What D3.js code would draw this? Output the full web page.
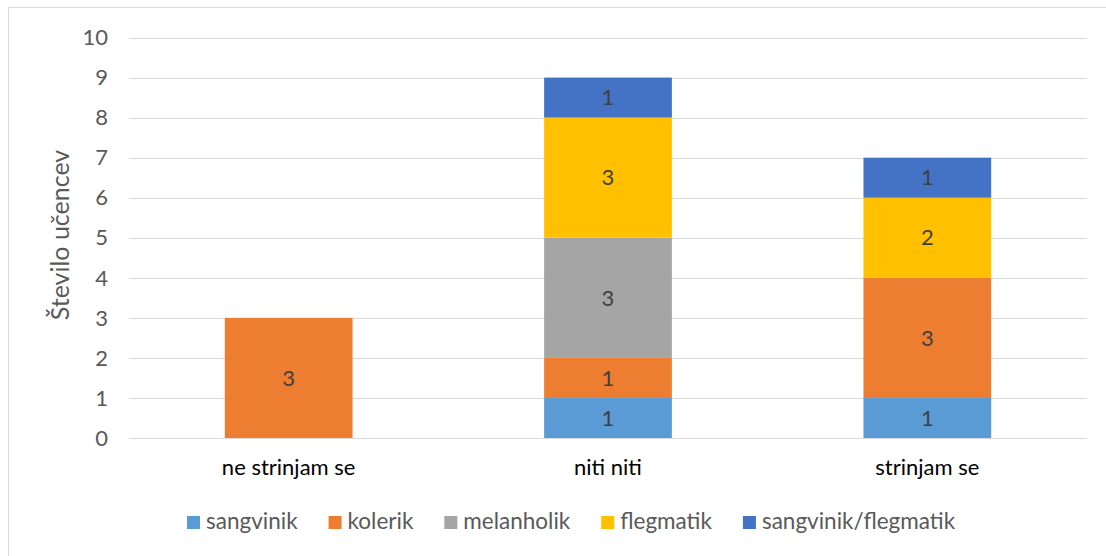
<!DOCTYPE html>
<html>
<head>
<meta charset="utf-8">
<script src="https://cdn.jsdelivr.net/npm/d3@7"></script>
<style>
  body { margin: 0; background: #fff; }
  svg { font-family: Lato, "Noto Sans", sans-serif; }
</style>
</head>
<body>
<svg id="chart" width="1106" height="556"></svg>
<script>
const categories = ["ne strinjam se", "niti niti", "strinjam se"];
const seriesNames = ["sangvinik", "kolerik", "melanholik", "flegmatik", "sangvinik/flegmatik"];
const sangvinik = [0, 1, 1];
const kolerik = [3, 1, 3];
const melanholik = [0, 3, 0];
const flegmatik = [0, 3, 2];
const sangvinikFlegmatik = [0, 1, 1];
const colors = ["#5B9BD5", "#ED7D31", "#A5A5A5", "#FFC000", "#4472C4"];
const yTicks = [0, 1, 2, 3, 4, 5, 6, 7, 8, 9, 10];

const seriesValues = [sangvinik, kolerik, melanholik, flegmatik, sangvinikFlegmatik];
const rows = categories.map((c, i) => {
  const r = { cat: c };
  seriesNames.forEach((s, j) => { r[s] = seriesValues[j][i]; });
  return r;
});

const svg = d3.select("#chart");

// outer chart border
svg.append("rect")
  .attr("x", 8.5).attr("y", 7.5)
  .attr("width", 1110).attr("height", 560)
  .attr("fill", "none").attr("stroke", "#d9d9d9");

const x = d3.scaleBand()
  .domain(categories)
  .range([129, 1087])
  .paddingInner(0.6)
  .paddingOuter(0.3);

const y = d3.scaleLinear().domain([0, 10]).range([438, 37.5]);

// gridlines
svg.append("g")
  .selectAll("line")
  .data(yTicks)
  .enter()
  .append("line")
  .attr("x1", 129)
  .attr("x2", 1087)
  .attr("y1", d => Math.round(y(d)) + 0.5)
  .attr("y2", d => Math.round(y(d)) + 0.5)
  .attr("stroke", "#d9d9d9")
  .attr("stroke-width", 1);

// y tick labels
svg.append("g")
  .selectAll("text")
  .data(yTicks)
  .enter()
  .append("text")
  .attr("x", 108)
  .attr("y", d => y(d))
  .attr("dy", "0.35em")
  .attr("text-anchor", "end")
  .attr("font-size", 22)
  .attr("fill", "#595959")
  .text(d => d);

// y axis title
svg.append("text")
  .attr("transform", "translate(60," + 235 + ") rotate(-90)")
  .attr("text-anchor", "middle")
  .attr("dy", "0.35em")
  .attr("font-size", 25)
  .attr("fill", "#595959")
  .text("Število učencev");

const stack = d3.stack().keys(seriesNames)(rows);

const layers = svg.append("g")
  .selectAll("g")
  .data(stack)
  .enter()
  .append("g")
  .attr("fill", (d, i) => colors[i]);

layers.selectAll("rect")
  .data(d => d)
  .enter()
  .append("rect")
  .attr("x", d => x(d.data.cat))
  .attr("width", x.bandwidth())
  .attr("y", d => y(d[1]))
  .attr("height", d => y(d[0]) - y(d[1]));

// data labels
layers.selectAll("text")
  .data(d => d.filter(p => p[1] - p[0] > 0))
  .enter()
  .append("text")
  .attr("x", d => x(d.data.cat) + x.bandwidth() / 2)
  .attr("y", d => y((d[0] + d[1]) / 2))
  .attr("dy", "0.35em")
  .attr("text-anchor", "middle")
  .attr("font-size", 22)
  .attr("fill", "#404040")
  .text(d => d[1] - d[0]);

// category labels
svg.append("g")
  .selectAll("text")
  .data(categories)
  .enter()
  .append("text")
  .attr("x", d => x(d) + x.bandwidth() / 2)
  .attr("y", 467)
  .attr("dy", "0.35em")
  .attr("text-anchor", "middle")
  .attr("font-size", 22)
  .attr("fill", "#000")
  .text(d => d);

// legend, laid out left to right from measured text widths
const legend = svg.append("g");
let lx = 187;
seriesNames.forEach((name, i) => {
  legend.append("rect")
    .attr("x", lx).attr("y", 516)
    .attr("width", 13).attr("height", 13)
    .attr("fill", colors[i]);
  const t = legend.append("text")
    .attr("x", lx + 19)
    .attr("y", 521)
    .attr("dy", "0.35em")
    .attr("font-size", 22.5)
    .attr("fill", "#595959")
    .text(name);
  lx += 19 + t.node().getComputedTextLength() + 31;
});
</script>
</body>
</html>
